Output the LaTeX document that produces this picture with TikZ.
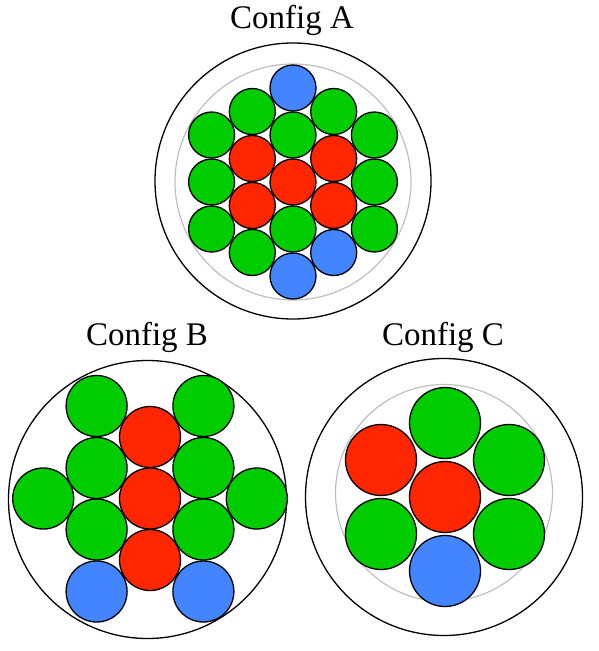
\documentclass[tikz,border=0pt]{standalone}
\usepackage{fontspec}
\setmainfont{Liberation Serif}
\usetikzlibrary{positioning}

\definecolor{cellgreen}{RGB}{0,204,0}
\definecolor{cellred}{RGB}{255,38,0}
\definecolor{cellblue}{RGB}{66,133,255}

\tikzset{
  cell/.style={circle, draw=black, line width=1.3pt, inner sep=0pt},
  gcell/.style={cell, fill=cellgreen},
  rcell/.style={cell, fill=cellred},
  bcell/.style={cell, fill=cellblue},
  shell/.style={draw=black, line width=1.3pt},
  liner/.style={draw=black!25, line width=1.2pt},
  title/.style={font=\fontsize{33}{39}\selectfont, anchor=base, inner sep=0pt}
}

\begin{document}
\begin{tikzpicture}[x=1pt, y=-1pt]
  \useasboundingbox (0,0) rectangle (598,651);

  % Config A (top)
  \node[title] (titleA) at (292,28) {Config A};
  \draw[shell] (293,181) circle (138);
  \draw[liner] (293,182) circle (118);
  \begin{scope}[every node/.append style={minimum size=46pt}]
    % centre column
    \node[bcell] (a01) at (293,88) {};
    \node[gcell] (a02) at (293,135) {};
    \node[rcell] (a03) at (293,182) {};
    \node[gcell] (a04) at (293,229) {};
    \node[bcell] (a05) at (293,276) {};
    % inner left column
    \node[gcell] (a06) at (252.3,111.5) {};
    \node[rcell] (a07) at (252.3,158.5) {};
    \node[rcell] (a08) at (252.3,205.5) {};
    \node[gcell] (a09) at (252.3,252.5) {};
    % inner right column
    \node[gcell] (a10) at (333.7,111.5) {};
    \node[rcell] (a11) at (333.7,158.5) {};
    \node[rcell] (a12) at (333.7,205.5) {};
    \node[bcell] (a13) at (333.7,252.5) {};
    % outer columns
    \node[gcell] (a14) at (211.6,135) {};
    \node[gcell] (a15) at (211.6,182) {};
    \node[gcell] (a16) at (211.6,229) {};
    \node[gcell] (a17) at (374.4,135) {};
    \node[gcell] (a18) at (374.4,182) {};
    \node[gcell] (a19) at (374.4,229) {};
  \end{scope}

  % Config B (bottom left)
  \node[title] (titleB) at (147,345) {Config B};
  \draw[shell] (147.5,499.5) circle (139);
  \begin{scope}[every node/.append style={minimum size=61pt}]
    \node[rcell] (b01) at (150,437) {};
    \node[rcell] (b02) at (150,498.5) {};
    \node[rcell] (b03) at (150,560) {};
    \node[gcell] (b04) at (96.6,406) {};
    \node[gcell] (b05) at (96.6,468) {};
    \node[gcell] (b06) at (96.6,529.5) {};
    \node[bcell] (b07) at (96.6,591.5) {};
    \node[gcell] (b08) at (203.4,406) {};
    \node[gcell] (b09) at (203.4,468) {};
    \node[gcell] (b10) at (203.4,529.5) {};
    \node[bcell] (b11) at (203.4,591.5) {};
    \node[gcell] (b12) at (43.2,498.5) {};
    \node[gcell] (b13) at (256.8,498.5) {};
  \end{scope}

  % Config C (bottom right)
  \node[title] (titleC) at (443,345) {Config C};
  \draw[shell] (444,497) circle (138.5);
  \draw[liner] (444,493) circle (108.5);
  \begin{scope}[every node/.append style={minimum size=71pt}]
    \node[rcell] (c01) at (445,497) {};
    \node[gcell] (c02) at (445,423) {};
    \node[bcell] (c03) at (445,571) {};
    \node[rcell] (c04) at (381,460) {};
    \node[gcell] (c05) at (509,460) {};
    \node[gcell] (c06) at (381,534) {};
    \node[gcell] (c07) at (509,534) {};
  \end{scope}
\end{tikzpicture}
\end{document}
